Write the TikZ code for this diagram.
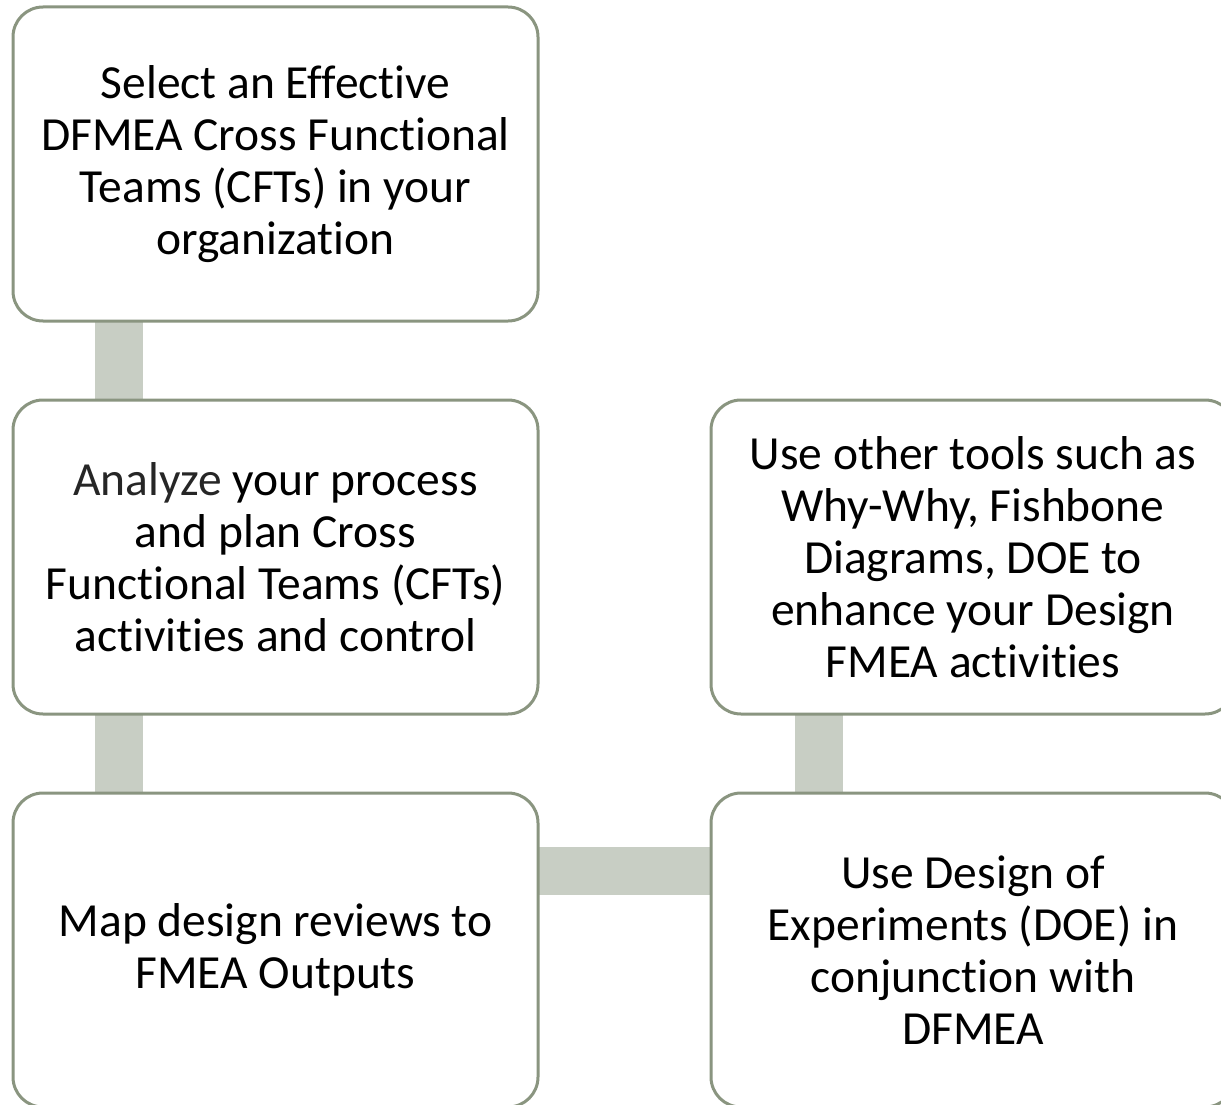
\documentclass[tikz,border=0pt]{standalone}
\usepackage{fontspec}
\setmainfont{Carlito}[Ligatures=CommonOff]
\definecolor{boxline}{HTML}{8A9580}
\definecolor{barfill}{HTML}{C8CEC4}
\tikzset{
  stepbox/.style={draw=boxline, line width=3pt, fill=white, rounded corners=30pt},
  bar/.style={fill=barfill, draw=none},
  txt/.style={align=center, font=\fontsize{47.5}{52}\selectfont, text=black}
}
\begin{document}
\begin{tikzpicture}[x=1pt,y=-1pt]
\useasboundingbox (0,0) rectangle (1221,1105);
\clip (0,0) rectangle (1221,1105);
% connectors
\fill[bar] (95,315) rectangle (143,405);
\fill[bar] (95,708) rectangle (143,800);
\fill[bar] (532,847) rectangle (717,895);
\fill[bar] (795,708) rectangle (843,800);
% boxes
\draw[stepbox] (13,7) rectangle (538,321);
\draw[stepbox] (13,400) rectangle (538,714);
\draw[stepbox] (13,793) rectangle (538,1107);
\draw[stepbox] (711,400) rectangle (1235,714);
\draw[stepbox] (711,793) rectangle (1235,1107);
\node[txt] (t1) at (275.5,164) {Select an Effective\\DFMEA Cross Functional\\Teams (CFTs) in your\\organization};
\node[txt] (t2) at (275.5,557) {{\color{black!85}Analyze} your process\\and plan Cross\\Functional Teams (CFTs)\\activities and control};
\node[txt] (t3) at (275.5,950) {Map design reviews to\\FMEA Outputs};
\node[txt] (t4) at (973,557) {Use other tools such as\\Why-Why, Fishbone\\Diagrams, DOE to\\enhance your Design\\FMEA activities};
\node[txt] (t5) at (973,950) {Use Design of\\Experiments (DOE) in\\conjunction with\\DFMEA};
\end{tikzpicture}
\end{document}
